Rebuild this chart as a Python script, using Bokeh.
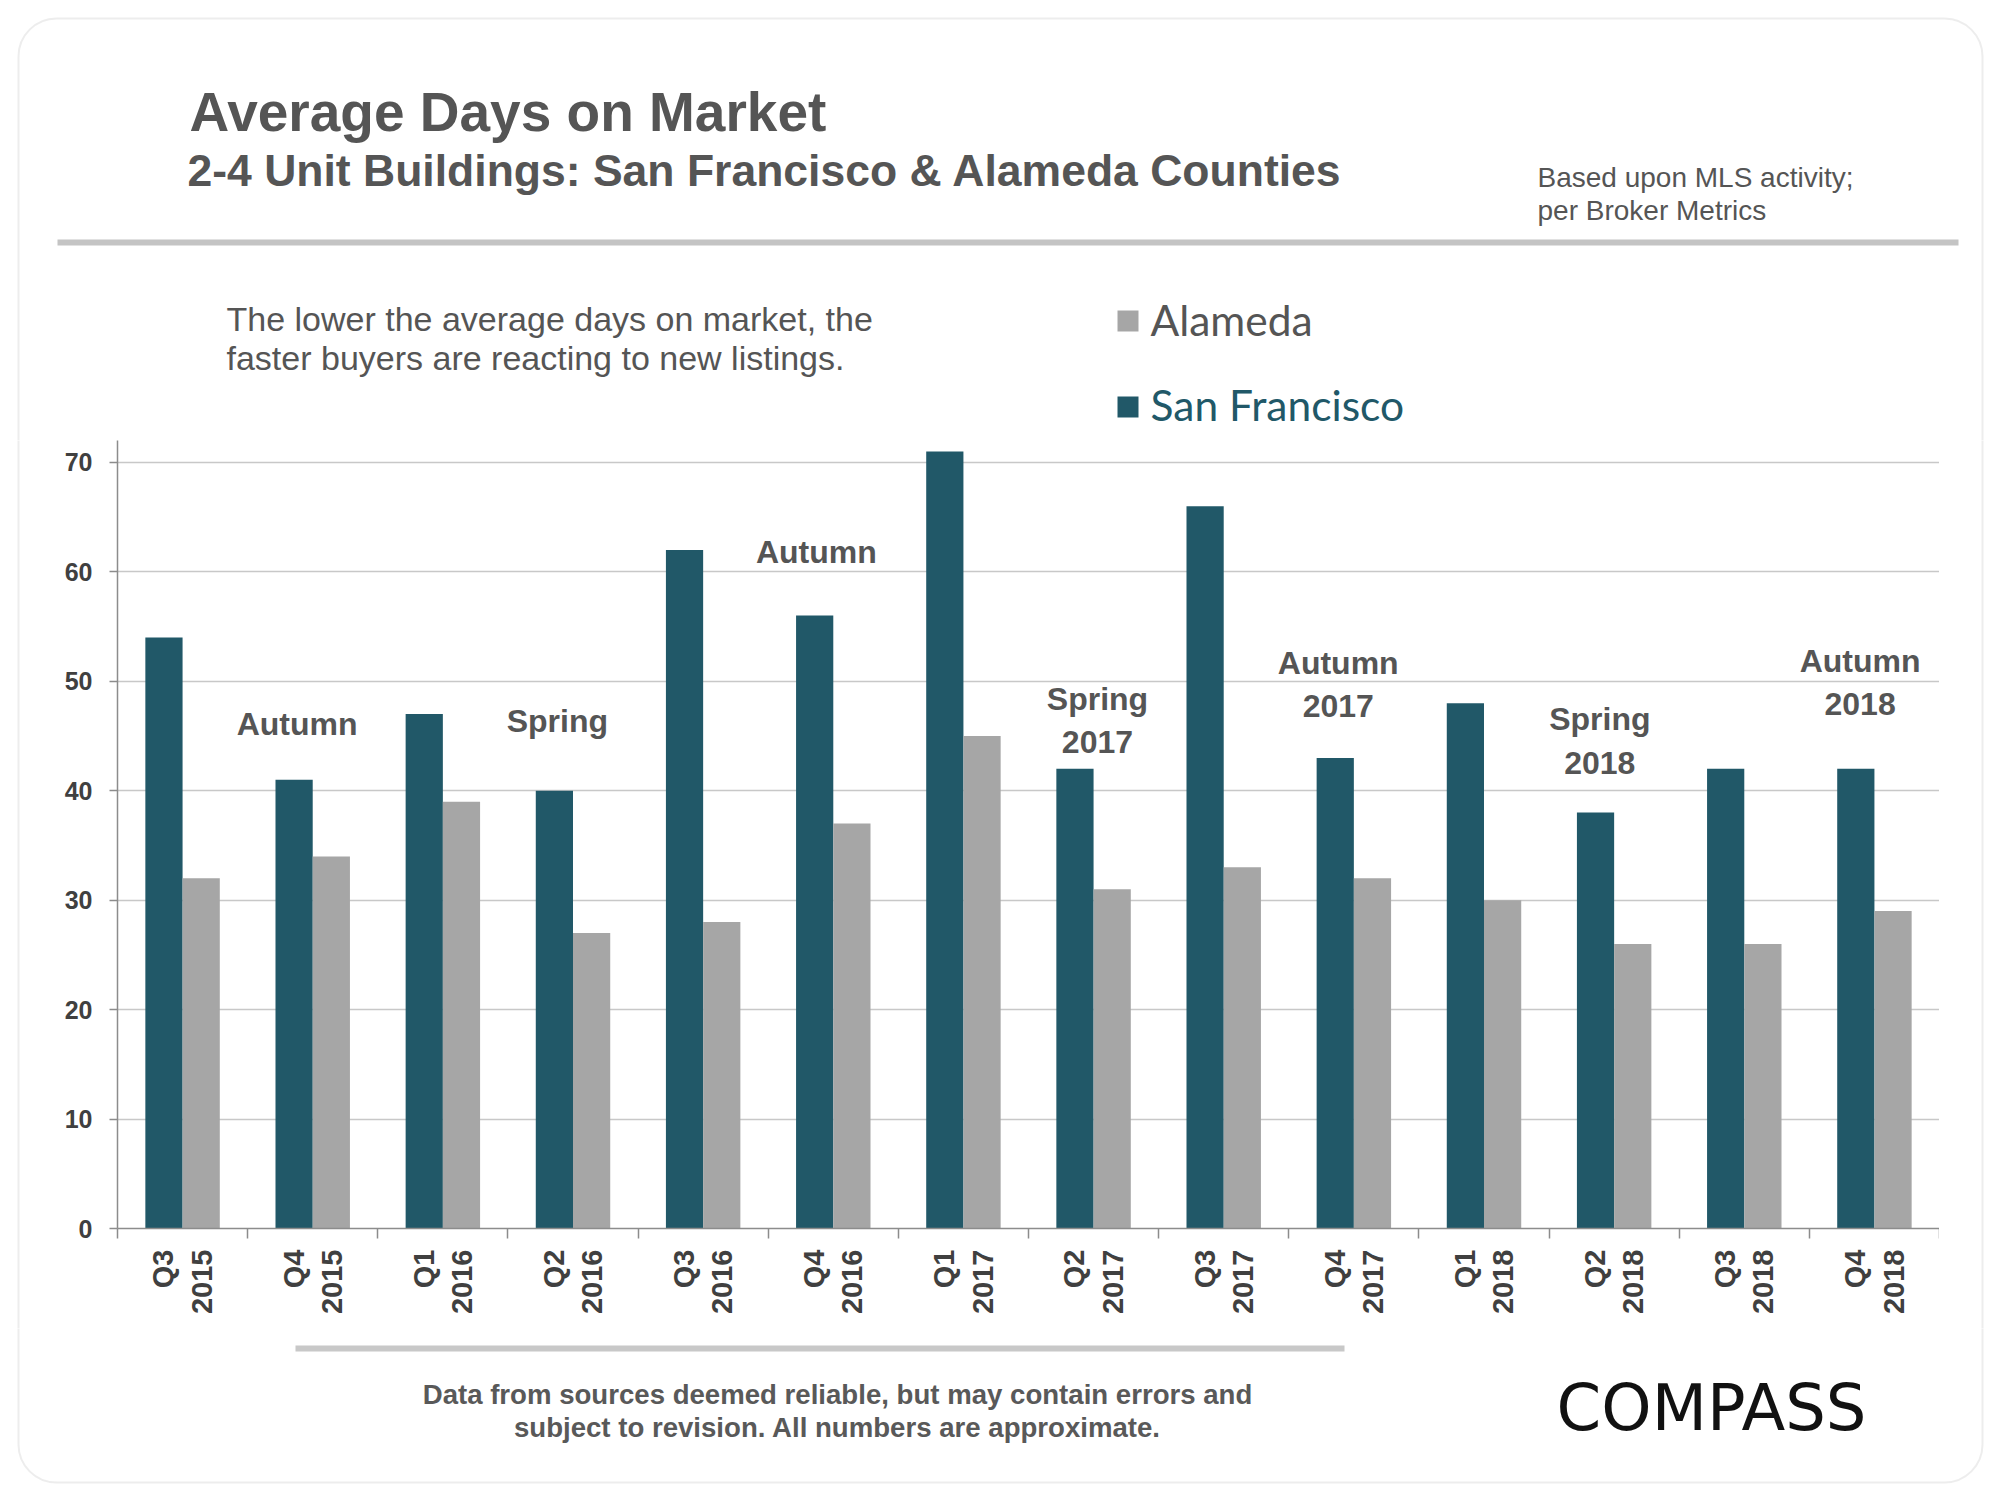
import numpy as np
from bokeh.plotting import figure
from bokeh.layouts import column, row
from bokeh.models import Range1d, FixedTicker, BoxAnnotation, ColumnDataSource
from bokeh.core.properties import value
from bokeh.transform import dodge
from bokeh.embed import file_html
from bokeh.resources import INLINE

# ---------------- data ----------------
quarters = ["Q3\n2015", "Q4\n2015", "Q1\n2016", "Q2\n2016", "Q3\n2016", "Q4\n2016", "Q1\n2017",
            "Q2\n2017", "Q3\n2017", "Q4\n2017", "Q1\n2018", "Q2\n2018", "Q3\n2018", "Q4\n2018"]
san_francisco = [54, 41, 47, 40, 62, 56, 71, 42, 66, 43, 48, 38, 42, 42]
alameda = [32, 34, 39, 27, 28, 37, 45, 31, 33, 32, 30, 26, 26, 29]
y_ticks = [0, 10, 20, 30, 40, 50, 60, 70]

season_text = ["Autumn", "Spring", "Autumn", "Spring\n2017", "Autumn\n2017", "Spring\n2018", "Autumn\n2018"]
season_x = [1.38, 3.38, 5.37, 7.53, 9.38, 11.39, 13.39]
season_y = [46.1, 46.35, 61.85, 46.4, 49.7, 44.55, 49.9]

SF_COLOR = "#215868"
AL_COLOR = "#a6a6a6"
TXT = "#555555"
CARD = "#c4c4c4"
FONT = "Liberation Sans"

W, H = 1984, 1484
HEAD_H = 440          # chart frame top
CHART_H = 888         # chart frame (788) + x-axis area
FOOT_H = H - HEAD_H - CHART_H
LSTRIP, RSTRIP = 40, 45


def panel(w, h, x0, y0):
    """A plain figure whose frame fills it; data units = page pixels (y downwards)."""
    f = figure(width=w, height=h, output_backend="svg", toolbar_location=None,
               x_range=Range1d(x0, x0 + w), y_range=Range1d(y0 + h, y0),
               min_border=0, x_axis_location=None, y_axis_location=None)
    f.grid.visible = False
    f.outline_line_color = None
    f.background_fill_color = "white"
    f.border_fill_color = "white"
    f.add_layout(BoxAnnotation(left=18, right=1982, top=18, bottom=1482, fill_color=None,
                               line_color=CARD, line_width=2, border_radius=38))
    return f


def txt(f, x, y, t, size, color=TXT, style="normal", font=FONT, align="left"):
    f.text(x=[x], y=[y], text=[t], text_font=value(font), text_font_size=size,
           text_font_style=style, text_color=color, text_align=align, text_baseline="middle")


# ---------------- header ----------------
head = panel(W, HEAD_H, 0, 0)
txt(head, 189, 111, "Average Days on Market", "55px", style="bold")
txt(head, 187, 170, "2-4 Unit Buildings: San Francisco & Alameda Counties", "44.5px", style="bold")
txt(head, 1537, 177, "Based upon MLS activity;", "28px")
txt(head, 1537, 210, "per Broker Metrics", "28px")
head.quad(left=[57], right=[1958], top=[239], bottom=[245], fill_color="#c4c4c4", line_color=None)
txt(head, 226, 318, "The lower the average days on market, the", "34px")
txt(head, 226, 357, "faster buyers are reacting to new listings.", "34px")
head.quad(left=[1117], right=[1138], top=[310], bottom=[331], fill_color=AL_COLOR, line_color=None)
head.quad(left=[1117], right=[1138], top=[396], bottom=[417], fill_color=SF_COLOR, line_color=None)
txt(head, 1150, 319, "Alameda", "42.5px", font="Lato")
txt(head, 1150, 404, "San Francisco", "42.5px", color=SF_COLOR, font="Lato")

# ---------------- side strips (carry the card edges) ----------------
left = panel(LSTRIP, CHART_H, 0, HEAD_H)
right = panel(RSTRIP, CHART_H, W - RSTRIP, HEAD_H)

# ---------------- chart ----------------
n = len(quarters)
centers = [i + 0.5 for i in range(n)]
src = ColumnDataSource(dict(x=centers, sf=san_francisco, al=alameda))

p = figure(width=W - LSTRIP - RSTRIP, height=CHART_H, output_backend="svg", toolbar_location=None,
           x_range=Range1d(0, n), y_range=Range1d(0, 72),
           min_border_left=117 - LSTRIP, min_border_right=W - RSTRIP - 1939, min_border_top=0,
           min_border_bottom=CHART_H - 788)
p.outline_line_color = None
p.background_fill_color = "white"
p.border_fill_color = "white"

p.vbar(x=dodge("x", -0.143, range=p.x_range), top="sf", width=0.286, source=src,
       fill_color=SF_COLOR, line_color=None)
p.vbar(x=dodge("x", 0.143, range=p.x_range), top="al", width=0.286, source=src,
       fill_color=AL_COLOR, line_color=None)

p.text(x=season_x, y=season_y, text=season_text, text_font=value(FONT), text_font_style="bold",
       text_font_size="32px", text_color=TXT, text_align="center", text_baseline="middle",
       text_line_height=1.2)

p.xgrid.visible = False
p.ygrid.grid_line_color = "#c8c8c8"
p.ygrid.grid_line_width = 1.5
p.yaxis.ticker = FixedTicker(ticks=y_ticks)
p.yaxis.axis_line_color = "#8c8c8c"
p.yaxis.axis_line_width = 1.5
p.yaxis.major_tick_line_color = "#8c8c8c"
p.yaxis.major_tick_line_width = 1.5
p.yaxis.major_tick_out = 8
p.yaxis.major_tick_in = 0
p.yaxis.minor_tick_line_color = None
p.yaxis.major_label_text_font = FONT
p.yaxis.major_label_text_font_style = "bold"
p.yaxis.major_label_text_font_size = "25px"
p.yaxis.major_label_text_color = "#404040"
p.yaxis.major_label_standoff = 17

p.xaxis.ticker = FixedTicker(ticks=centers, minor_ticks=list(range(n + 1)))
p.xaxis.major_label_overrides = {c: q for c, q in zip(centers, quarters)}
p.xaxis.major_label_orientation = np.pi / 2
p.xaxis.axis_line_color = "#8c8c8c"
p.xaxis.axis_line_width = 1.5
p.xaxis.major_tick_line_color = None
p.xaxis.minor_tick_line_color = "#8c8c8c"
p.xaxis.minor_tick_line_width = 1.5
p.xaxis.minor_tick_out = 10
p.xaxis.minor_tick_in = 0
p.xaxis.major_label_text_font = FONT
p.xaxis.major_label_text_font_style = "bold"
p.xaxis.major_label_text_font_size = "29px"
p.xaxis.major_label_text_color = "#404040"
p.xaxis.major_label_standoff = 11

# ---------------- footer ----------------
foot = panel(W, FOOT_H, 0, HEAD_H + CHART_H)
foot.quad(left=[295], right=[1344], top=[1345], bottom=[1351], fill_color="#c8c8c8", line_color=None)
txt(foot, 837, 1394, "Data from sources deemed reliable, but may contain errors and", "27.6px",
    color="#595959", style="bold", align="center")
txt(foot, 837, 1427, "subject to revision. All numbers are approximate.", "27.6px",
    color="#595959", style="bold", align="center")
txt(foot, 1711, 1407, "COMPASS", "64px", color="#111111", font="DejaVu Sans", align="center")

layout = column(head, row(column(left), p, column(right)), foot)
open("out.html", "w").write(file_html(layout, INLINE))
